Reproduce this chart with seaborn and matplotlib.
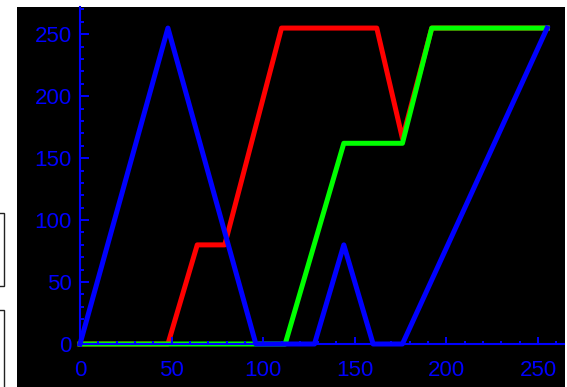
import matplotlib
matplotlib.use('Agg')
import matplotlib.pyplot as plt
from matplotlib.patches import Rectangle
from matplotlib.ticker import MultipleLocator
import seaborn as sns

# Colour table breakpoints (index -> channel value)
red_x = [0, 48, 64, 79, 110, 162, 176, 192, 255]
red_y = [0, 0, 80, 80, 255, 255, 166, 255, 255]
green_x = [0, 112, 144, 176, 192, 255]
green_y = [0, 0, 162, 162, 255, 255]
blue_x = [0, 48, 96, 128, 144, 160, 176, 255]
blue_y = [0, 255, 0, 0, 80, 0, 0, 255]

W, H = 567, 387
fig = plt.figure(figsize=(W / 100, H / 100), dpi=100, facecolor='white')

# black plot window and the two stray boxes on the left edge
fig.patches.append(Rectangle((17 / W, 0), (565 - 17) / W, (H - 7) / H,
                             transform=fig.transFigure, facecolor='black',
                             edgecolor='none', zorder=-5))
fig.patches.append(Rectangle((-5 / W, (H - 286) / H), 9 / W, 73 / H,
                             transform=fig.transFigure, facecolor='white',
                             edgecolor='#222222', lw=1, zorder=-5))
fig.patches.append(Rectangle((-5 / W, -5 / H), 9 / W, (H - 310 + 5) / H,
                             transform=fig.transFigure, facecolor='white',
                             edgecolor='#222222', lw=1, zorder=-5))

ax = fig.add_axes([80 / W, (H - 344) / H, (564 - 80) / W, 337 / H])
ax.set_facecolor('black')

lw = 3.6
sns.lineplot(x=red_x, y=red_y, color='#ff0000', lw=lw, ax=ax, clip_on=False)
sns.lineplot(x=green_x, y=green_y, color='#00ff00', lw=lw, ax=ax, clip_on=False)
sns.lineplot(x=blue_x, y=blue_y, color='#0000ff', lw=lw, ax=ax, clip_on=False)

ax.set_xlim(0, 264.2)
ax.set_ylim(0, 272)
ax.set_axisbelow(False)

for s in ['top', 'right']:
    ax.spines[s].set_visible(False)
for s in ['left', 'bottom']:
    ax.spines[s].set_color('#0000ff')
    ax.spines[s].set_linewidth(1.5)
    ax.spines[s].set_zorder(3)

ax.xaxis.set_major_locator(MultipleLocator(50))
ax.xaxis.set_minor_locator(MultipleLocator(10))
ax.yaxis.set_major_locator(MultipleLocator(50))
ax.yaxis.set_minor_locator(MultipleLocator(10))

ax.tick_params(axis='x', which='major', direction='in', length=5, width=1.4,
               color='#0000ff', labelcolor='#0000ff', pad=11.5)
ax.tick_params(axis='x', which='minor', direction='in', length=2.2, width=1.4,
               color='#0000ff')
ax.tick_params(axis='y', which='major', direction='in', length=6.5, width=1.4,
               color='#0000ff', labelcolor='#0000ff', pad=6)
ax.tick_params(axis='y', which='minor', direction='in', length=3, width=1.4,
               color='#0000ff')

for lab in ax.get_xticklabels() + ax.get_yticklabels():
    lab.set_fontfamily('Liberation Sans')
    lab.set_fontsize(16)

fig.canvas.draw()
ylabs = ax.get_yticklabels()
ylabs[0].set_va('baseline')

fig.savefig('out.png', dpi=100, facecolor='white')
